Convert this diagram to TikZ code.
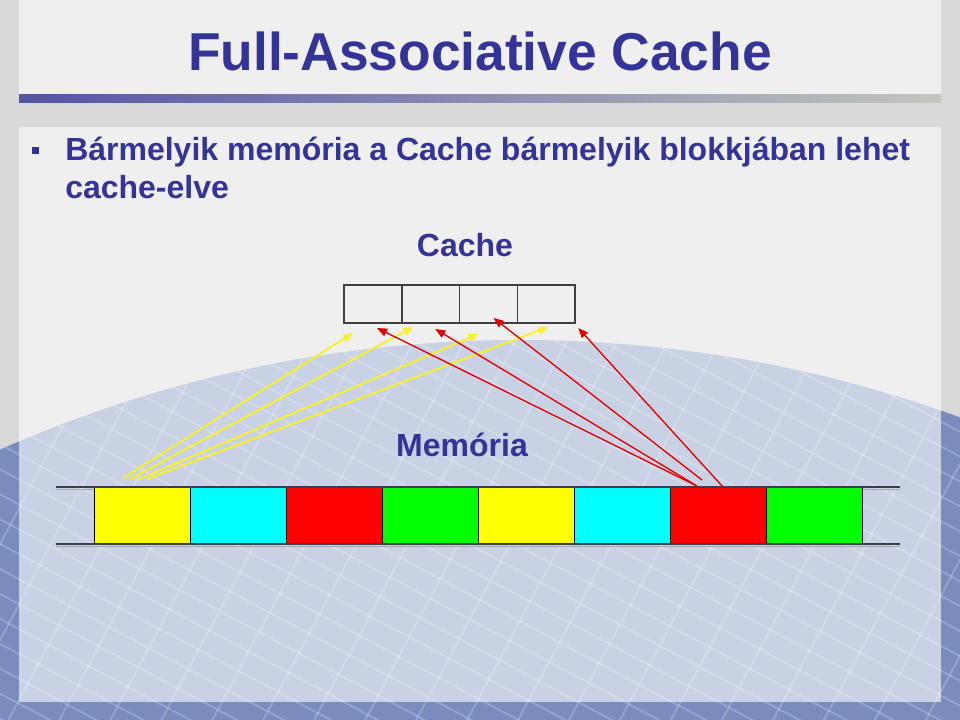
\documentclass[tikz,border=0pt]{standalone}
\usepackage{fontspec}
\setmainfont{Liberation Sans}
\usetikzlibrary{arrows.meta,positioning}

\definecolor{slideblue}{RGB}{51,51,153}
\definecolor{bggray}{RGB}{217,217,217}
\definecolor{wafer}{RGB}{120,140,190}
\definecolor{barblue}{RGB}{84,84,164}
\definecolor{bargray}{RGB}{194,198,190}
\definecolor{arryellow}{RGB}{250,240,40}
\definecolor{arrred}{RGB}{228,0,0}
\definecolor{cellyellow}{RGB}{255,255,0}
\definecolor{cellcyan}{RGB}{0,255,255}
\definecolor{cellred}{RGB}{255,0,0}
\definecolor{cellgreen}{RGB}{0,255,0}

\tikzset{
  cachecell/.style={draw=black!75,line width=1pt,outer sep=0pt,inner sep=0pt,
    minimum width=43.3pt,minimum height=28.5pt},
  memcell/.style={draw=black,line width=0.6pt,outer sep=0pt,inner sep=0pt,
    minimum width=72pt,minimum height=42.75pt},
  memline/.style={draw={rgb,255:red,60;green,60;blue,75},line width=1.6pt},
  waferline/.style={white,opacity=0.2,line width=1.5pt},
  panel/.style={white,opacity=0.6},
  yarr/.style={arryellow,line width=1.4pt,-{Triangle[length=7.5pt,width=6pt]}},
  rarr/.style={arrred,line width=1pt,-{Triangle[length=7.5pt,width=6pt]}},
  lbl/.style={text=slideblue,font=\bfseries\fontsize{24}{28}\selectfont,inner sep=0pt},
  titletext/.style={text=slideblue,font=\bfseries\fontsize{40}{48}\selectfont,inner sep=0pt},
  bulletsq/.style={fill=slideblue,minimum size=5.25pt,inner sep=0pt}
}

\begin{document}
\begin{tikzpicture}[x=0.75pt,y=-0.75pt]
\useasboundingbox (0,0) rectangle (960,720);
% background and wafer
\fill[bggray] (0,0) rectangle (960,720);
\begin{scope}
  \clip (0,0) rectangle (960,720);
  \fill[wafer] (520,1624) circle (1284);
  \clip (520,1624) circle (1284);
  \begin{scope}[rotate around={-28:(480,600)}]
    \foreach \k in {-40,...,40}
      \draw[waferline] (-400,600+\k*22) -- (1400,600+\k*22);
    \foreach \k in {-40,...,40}
      \draw[waferline] (480+\k*45,-300) -- (480+\k*45,1500);
  \end{scope}
\end{scope}
\fill[panel] (19,0) rectangle (941,94);
\fill[panel] (19,127) rectangle (941,702);
\shade[left color=barblue,right color=bargray] (19,95) rectangle (941,103);

% texts
\node[titletext,anchor=base] (title) at (480,71) {Full-Associative Cache};
\node[bulletsq] (bul) at (35.5,150.5) {};
\node[lbl,anchor=base west] (line1) at (65,161)
  {Bármelyik memória a Cache bármelyik blokkjában lehet};
\node[lbl,anchor=base west] (line2) at (65,199) {cache-elve};
\node[lbl,anchor=base] (cachelbl) at (465,257) {Cache};
\node[lbl,anchor=base] (memlbl) at (462,456) {Memória};

% cache
\node[cachecell] (c1) at (373,304) {};
\foreach \i [count=\j from 2] in {1,2,3}
  \node[cachecell,right=0pt of c\i] (c\j) {};

% memory
\draw[gray!70,line width=1.2pt] (56,489.5) -- (900,489.5);
\draw[gray!70,line width=1.2pt] (56,546.5) -- (900,546.5);
\foreach \col [count=\i] in {cellyellow,cellcyan,cellred,cellgreen,cellyellow,cellcyan,cellred,cellgreen}
  \node[memcell,fill=\col] (m\i) at (46+96*\i,515.5) {};
\draw[memline] (56,487) -- (900,487);
\draw[memline] (56,544) -- (900,544);

% arrows
\draw[yarr] ([shift={(-19,-9)}]m1.north) -- ([shift={(-20,10)}]c1.south);
\draw[yarr] ([shift={(-12,-8)}]m1.north) -- ([shift={(-17.5,4)}]c2.south);
\draw[yarr] ([shift={(-5,-7)}]m1.north) -- ([shift={(-10,11)}]c3.south);
\draw[yarr] ([shift={(5,-8)}]m1.north) -- ([shift={(2,4)}]c4.south);
\draw[rarr] ([shift={(-21,-1)}]m7.north) -- ([shift={(4,5)}]c1.south);
\draw[rarr] ([shift={(-21,-1)}]m7.north) -- ([shift={(4.5,6)}]c2.south);
\draw[rarr] ([shift={(-16,-7)}]m7.north) -- ([shift={(5,-5)}]c3.south);
\draw[rarr] ([shift={(5,0)}]m7.north) -- ([shift={(32,5)}]c4.south);
\end{tikzpicture}
\end{document}
